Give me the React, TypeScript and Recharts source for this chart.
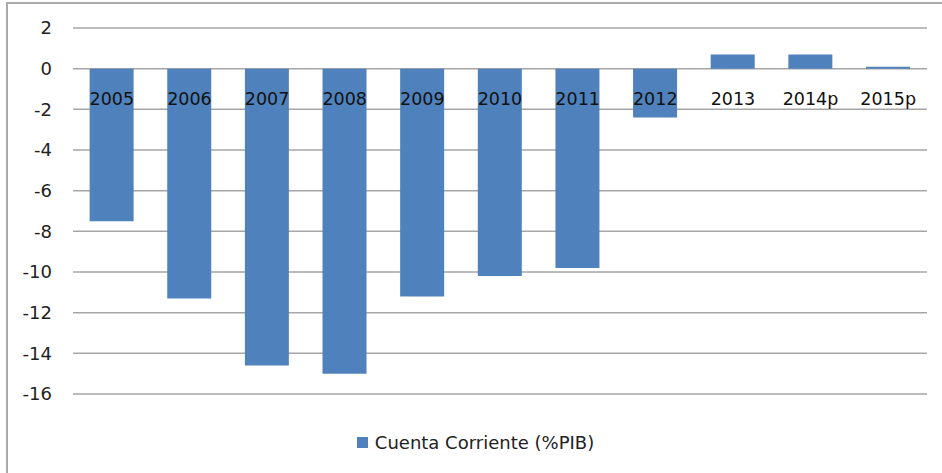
import React from "react";
import { BarChart, Bar, XAxis, YAxis, CartesianGrid, Legend } from "recharts";

const years = ["2005", "2006", "2007", "2008", "2009", "2010", "2011", "2012", "2013", "2014p", "2015p"];
const cuentaCorriente = [-7.5, -11.3, -14.6, -15.0, -11.2, -10.2, -9.8, -2.4, 0.7, 0.7, 0.1];
const yTicks = [2, 0, -2, -4, -6, -8, -10, -12, -14, -16];
const seriesName = "Cuenta Corriente (%PIB)";

const data = years.map((year, i) => ({ year, value: cuentaCorriente[i] }));

const W = 942;
const H = 473;
const MARGIN = { top: 28, right: 15, left: 0, bottom: 57 };
const Y_MAX = 2;
const Y_MIN = -16;
const PLOT_BOTTOM = 395;
const ZERO_Y = MARGIN.top + (Y_MAX / (Y_MAX - Y_MIN)) * (PLOT_BOTTOM - MARGIN.top);
const FONT = "'DejaVu Sans', sans-serif";

const CategoryTick = (props: any) => {
  const { x, payload } = props;
  return (
    <text
      x={x}
      y={ZERO_Y + 31}
      textAnchor="middle"
      dominantBaseline="middle"
      fontFamily={FONT}
      fontSize={17.5}
      fill="#111"
    >
      {payload.value}
    </text>
  );
};

const LegendContent = () => (
  <div
    style={{
      display: "flex",
      justifyContent: "center",
      alignItems: "center",
      fontFamily: FONT,
      fontSize: 18,
      color: "#222",
      paddingLeft: 24,
    }}
  >
    <span style={{ display: "inline-block", width: 11, height: 11, background: "#4F81BD", marginRight: 7 }} />
    <span>{seriesName}</span>
  </div>
);

export default function App() {
  return (
    <div style={{ position: "absolute", left: 0, top: 0, width: W, height: H, background: "#fff" }}>
      <div
        style={{
          position: "absolute",
          left: 6,
          top: 2,
          width: W - 6,
          height: H - 2,
          borderTop: "2px solid #a9a9a9",
          borderLeft: "2px solid #a9a9a9",
          boxSizing: "border-box",
        }}
      />
      <div style={{ position: "absolute", left: 0, top: 0 }}>
        <BarChart width={W} height={H} data={data} margin={MARGIN} barCategoryGap="21.4%">
          <CartesianGrid vertical={false} stroke="#a6a6a6" strokeWidth={1.5} />
          <YAxis
            domain={[Y_MIN, Y_MAX]}
            ticks={yTicks}
            width={73}
            axisLine={false}
            tickLine={false}
            tickSize={0}
            tickMargin={21}
            interval={0}
            tick={{ fontFamily: FONT, fontSize: 18, fill: "#222" }}
          />
          <Legend verticalAlign="bottom" content={<LegendContent />} wrapperStyle={{ bottom: 20 }} />
          <Bar dataKey="value" name={seriesName} fill="#4F81BD" isAnimationActive={false} />
          <XAxis
            dataKey="year"
            height={1}
            axisLine={false}
            tickLine={false}
            tick={<CategoryTick />}
            interval={0}
          />
        </BarChart>
      </div>
    </div>
  );
}
